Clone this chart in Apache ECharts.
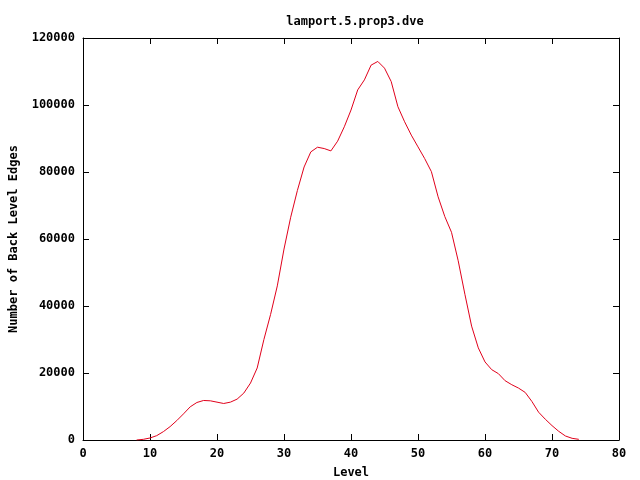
<!DOCTYPE html>
<html><head><meta charset="utf-8">
<script src="https://cdn.jsdelivr.net/npm/echarts@6/dist/echarts.min.js"></script>
<style>html,body{margin:0;padding:0;background:#fff}#c{width:640px;height:480px}</style>
</head><body><div id="c"></div>
<script>
const title = "lamport.5.prop3.dve";
const xLabel = "Level";
const yLabel = "Number of Back Level Edges";
const levels = [8,9,10,11,12,13,14,15,16,17,18,19,20,21,22,23,24,25,26,27,28,29,30,31,32,33,34,35,36,37,38,39,40,41,42,43,44,45,46,47,48,49,50,51,52,53,54,55,56,57,58,59,60,61,62,63,64,65,66,67,68,69,70,71,72,73,74];
const edges = [0,200,600,1300,2500,4000,5800,7800,9900,11200,11800,11700,11300,10900,11300,12200,14000,17000,21500,30000,37500,46000,57000,66500,74500,81500,86000,87400,87000,86300,89200,93500,98500,104500,107500,111900,113000,111000,107000,99500,95000,91000,87500,84000,80100,72600,66700,62000,53500,43500,34000,27500,23300,21000,19800,17700,16500,15500,14200,11500,8300,6200,4300,2600,1200,500,200];

const font = "'DejaVu Sans Mono', monospace";
const lbl = {color:'#000', fontFamily:font, fontWeight:'bold', fontSize:12};
const chart = echarts.init(document.getElementById('c'), null, {renderer:'canvas'});
const axLine = {show:true, onZero:false, lineStyle:{color:'#000', width:1}};
const tick = {show:true, inside:true, length:6, lineStyle:{color:'#000'}};
chart.setOption({
  animation:false,
  title:{text:title, left:350, top:11, textAlign:'center', textStyle:{...lbl}},
  grid:{left:83, right:21, top:38, bottom:40, show:false, containLabel:false, outerBoundsMode:'none'},
  xAxis:[
    {type:'value', min:0, max:80, interval:10, position:'bottom', axisLine:axLine, axisTick:tick,
     axisLabel:{...lbl, margin:8, formatter:v=>String(v)}, splitLine:{show:false},
     name:xLabel, nameLocation:'middle', nameGap:27, nameTextStyle:{...lbl}},
    {type:'value', min:0, max:80, interval:10, position:'top', axisLine:axLine, axisTick:tick,
     axisLabel:{show:false}, splitLine:{show:false}}
  ],
  yAxis:[
    {type:'value', min:0, max:120000, interval:20000, position:'left', axisLine:axLine, axisTick:tick,
     axisLabel:{...lbl, margin:8, formatter:v=>String(v)}, splitLine:{show:false},
     name:yLabel, nameLocation:'middle', nameGap:63, nameRotate:90, nameTextStyle:{...lbl}},
    {type:'value', min:0, max:120000, interval:20000, position:'right', axisLine:axLine, axisTick:tick,
     axisLabel:{show:false}, splitLine:{show:false}}
  ],
  series:[{type:'line', data:levels.map((l,i)=>[l, edges[i]]), showSymbol:false,
    lineStyle:{color:'#e0001b', width:1}, smooth:false}]
});
</script></body></html>
